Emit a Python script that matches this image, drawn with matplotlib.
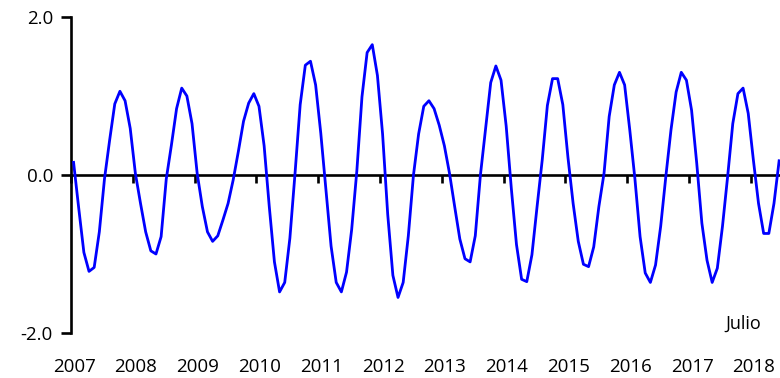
import numpy as np
import matplotlib.pyplot as plt

# Monthly series, Jan 2007 onwards
values = [
    0.16, -0.42, -0.98, -1.22, -1.17, -0.72, -0.05, 0.44, 0.90, 1.06, 0.94, 0.59,   # 2007
    0.02, -0.36, -0.72, -0.96, -1.00, -0.78, -0.05, 0.38, 0.84, 1.10, 1.00, 0.65,   # 2008
    0.02, -0.40, -0.72, -0.84, -0.77, -0.57, -0.36, -0.06, 0.30, 0.68, 0.91, 1.03,  # 2009
    0.87, 0.37, -0.40, -1.10, -1.48, -1.36, -0.80, 0.02, 0.89, 1.39, 1.44, 1.14,    # 2010
    0.53, -0.19, -0.90, -1.36, -1.48, -1.23, -0.69, 0.05, 0.99, 1.55, 1.65, 1.26,   # 2011
    0.52, -0.50, -1.27, -1.55, -1.36, -0.77, 0.00, 0.52, 0.87, 0.94, 0.84, 0.63,    # 2012
    0.37, 0.02, -0.40, -0.81, -1.06, -1.10, -0.77, 0.00, 0.59, 1.17, 1.38, 1.20,    # 2013
    0.62, -0.17, -0.88, -1.32, -1.35, -1.01, -0.40, 0.19, 0.88, 1.22, 1.22, 0.89,   # 2014
    0.22, -0.36, -0.84, -1.13, -1.16, -0.91, -0.40, 0.02, 0.74, 1.14, 1.30, 1.14,   # 2015
    0.57, -0.05, -0.78, -1.24, -1.36, -1.14, -0.65, -0.02, 0.57, 1.05, 1.30, 1.20,  # 2016
    0.82, 0.15, -0.61, -1.08, -1.36, -1.18, -0.65, -0.02, 0.65, 1.03, 1.10, 0.78,   # 2017
    0.19, -0.36, -0.74, -0.74, -0.36, 0.18,                                         # 2018
]
years = list(range(2007, 2019))
yticks = [-2.0, 0.0, 2.0]
ytick_labels = ["-2.0", "0.0", "2.0"]
note = "Julio"

plt.rcParams['font.family'] = ['Open Sans', 'DejaVu Sans']

fig = plt.figure(figsize=(7.8, 3.78), dpi=100)
ax = fig.add_axes([71 / 780, 1 - 333 / 378, 1 - 71 / 780, 316 / 378])

months = np.arange(len(values)) + 0.5
ax.plot(months, values, color="#0000FF", lw=2.0, zorder=3)

ax.set_ylim(-2, 2)
ax.set_xlim(0, (780 - 71) / 5.15)

# spines: left axis only, bottom one moved to zero
ax.spines['top'].set_visible(False)
ax.spines['right'].set_visible(False)
ax.spines['left'].set_linewidth(1.9)
ax.spines['bottom'].set_position(('data', 0))
ax.spines['bottom'].set_linewidth(1.9)

ax.set_yticks(yticks)
ax.set_yticklabels(ytick_labels, fontsize=13.5)
ax.tick_params(axis='y', direction='out', length=7, width=1.9, pad=6)

year_pos = [12 * k for k in range(len(years))]
ax.set_xticks(year_pos)
ax.set_xticklabels([])
ax.tick_params(axis='x', direction='out', length=6, width=1.9)

for pos, yr in zip(year_pos, years):
    ax.text(pos + 0.6, -0.108, str(yr), transform=ax.get_xaxis_transform(),
            ha='center', va='center', fontsize=13.5)

ax.text(0.973, 0.028, note, transform=ax.transAxes, ha='right', va='center',
        fontsize=13)

fig.savefig("out.png", dpi=100)
